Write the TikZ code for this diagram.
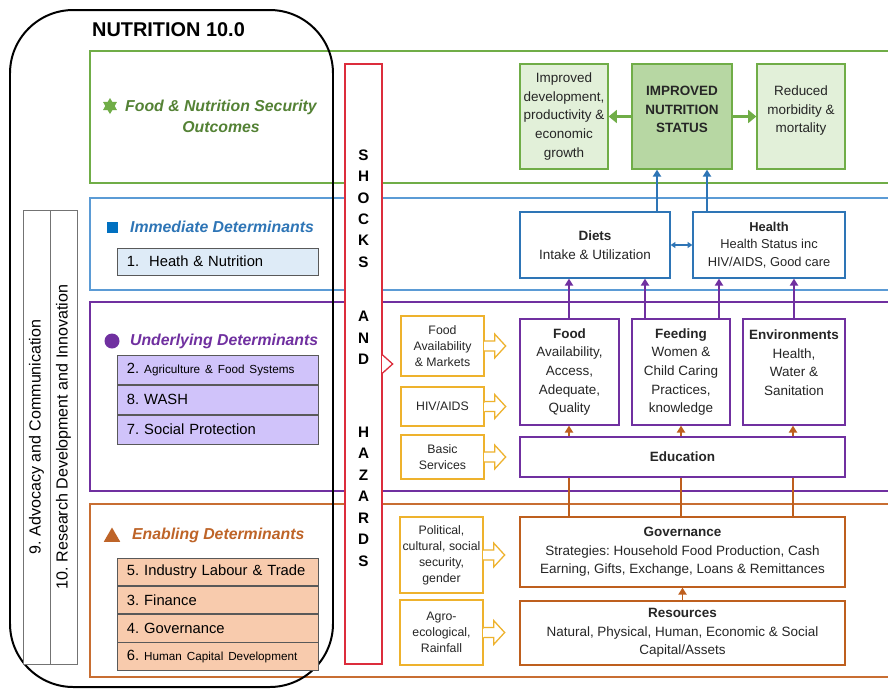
\documentclass[tikz,border=0pt]{standalone}
\usepackage{fontspec}
\setmainfont{Liberation Sans}
\usepackage{tikz}
\usetikzlibrary{positioning,shapes.geometric,arrows.meta}
\newcommand{\pxu}{0.03cm}
\definecolor{grnl}{RGB}{112,173,71}
\definecolor{grnd}{RGB}{84,130,53}
\definecolor{grnf}{RGB}{226,240,217}
\definecolor{grnm}{RGB}{183,215,163}
\definecolor{blul}{RGB}{91,155,213}
\definecolor{blub}{RGB}{46,117,182}
\definecolor{blusq}{RGB}{0,112,192}
\definecolor{bluf}{RGB}{222,235,247}
\definecolor{purp}{RGB}{112,48,160}
\definecolor{purf}{RGB}{208,195,250}
\definecolor{oral}{RGB}{200,110,50}
\definecolor{orad}{RGB}{190,95,30}
\definecolor{orat}{RGB}{190,100,40}
\definecolor{oraf}{RGB}{248,203,173}
\definecolor{gold}{RGB}{238,178,45}
\definecolor{shkr}{RGB}{220,45,60}
\tikzset{
  wh/.style 2 args={minimum width=#1*\pxu, minimum height=#2*\pxu},
  bx/.style={draw, line width=1.1pt, fill=white, inner sep=0pt, align=center, text=black!85, font=\fontsize{11.5}{15.8}\selectfont},
  bf/.style={font=\fontsize{11.5}{15.8}\selectfont\bfseries},
  gbx/.style={bx, draw=grnl, fill=grnf},
  bbx/.style={bx, draw=blub},
  pbx/.style={bx, draw=purp},
  obx/.style={bx, draw=orad},
  ybx/.style={bx, draw=gold, font=\fontsize{10.5}{13.6}\selectfont},
  lst/.style={draw=black!65, line width=0.6pt, text width=5.43cm, inner xsep=0.3cm, inner ysep=0pt, align=left, font=\fontsize{12.6}{15}\selectfont},
  hdr/.style={font=\fontsize{13.5}{18}\selectfont\bfseries\itshape},
  vbx/.style={draw=black!55, line width=0.8pt, fill=white, inner sep=0pt, font=\fontsize{13.7}{16}\selectfont},
  shl/.style={align=center, inner sep=0pt, font=\fontsize{13}{18.35}\selectfont\bfseries},
  band/.style={line width=0.9pt},
  arr/.style={line width=1.6pt, -{Triangle[width=7pt,length=6pt]}},
  garr/.style={line width=2.8pt, draw=grnl, -{Triangle[width=11pt,length=7pt]}},
  dbl/.style={line width=1pt, draw=blub, {Triangle[width=5pt,length=4pt]}-{Triangle[width=5pt,length=4pt]}}
}
\begin{document}
\frenchspacing
\begin{tikzpicture}[x=0.03cm, y=-0.03cm]
\useasboundingbox (0,0) rectangle (888,688);
\clip (0,0) rectangle (888,688);
\fill[white] (0,0) rectangle (888,688);

\draw[band, draw=grnl] (90,51) rectangle (900,183);
\draw[band, draw=blul] (90,198) rectangle (900,290);
\draw[band, draw=purp] (90,302) rectangle (900,491);
\draw[band, draw=oral] (90,504) rectangle (900,677);
\draw[line width=1.7pt, rounded corners=1.9cm] (10,10) rectangle (333,687);

\node[anchor=west, font=\fontsize{17}{20}\selectfont\bfseries] (ttl) at (88,30) {NUTRITION 10.0};

\node[vbx, wh={454}{27}, rotate=90] (adv) at (36.5,437) {9. Advocacy and Communication};
\node[vbx, wh={454}{27}, rotate=90] (rdi) at (63.5,437) {10. Research Development and Innovation};

\node[star, star points=6, star point ratio=1.7, fill=grnl, inner sep=0pt, minimum size=16*\pxu] (ic1) at (110,106) {};
\node[hdr, text=grnd, align=center] (h1) at (221,116.5) {Food \& Nutrition Security\\Outcomes};
\node[fill=blusq, inner sep=0pt, minimum size=11*\pxu] (ic2) at (112,227) {};
\node[hdr, text=blub, anchor=west] (h2) at (126,227) {Immediate Determinants};
\node[circle, fill=purp, inner sep=0pt, minimum size=15*\pxu] (ic3) at (112,341) {};
\node[hdr, text=purp, anchor=west] (h3) at (126,341) {Underlying Determinants};
\node[regular polygon, regular polygon sides=3, fill=orat, inner sep=0pt, minimum size=19*\pxu] (ic4) at (112,537) {};
\node[hdr, text=orat, anchor=west] (h4) at (128,535) {Enabling Determinants};

\node[lst, fill=bluf, minimum height=27*\pxu] (l1) at (217.5,261.5) {1.\ \ Heath \& Nutrition};
\node[lst, fill=purf, minimum height=29.3*\pxu] (l2) at (217.5,369.7) {2. {\fontsize{10}{12}\selectfont Agriculture \& Food Systems}};
\node[lst, fill=purf, minimum height=29.3*\pxu, below=0pt of l2] (l8) {8. WASH};
\node[lst, fill=purf, minimum height=29.3*\pxu, below=0pt of l8] (l7) {7. Social Protection};
\node[lst, fill=oraf, minimum height=27.5*\pxu] (l5) at (217.5,571.8) {5. Industry Labour \& Trade};
\node[lst, fill=oraf, minimum height=27.5*\pxu, below=0pt of l5] (l3) {3. Finance};
\node[lst, fill=oraf, minimum height=27.5*\pxu, below=0pt of l3] (l4) {4. Governance};
\node[lst, fill=oraf, minimum height=27.5*\pxu, below=0pt of l4] (l6) {6. {\fontsize{10}{12}\selectfont Human Capital Development}};

\node[draw=shkr, line width=1.1pt, fill=white, wh={37}{600}] (shk) at (363.5,364) {};
\node[shl] (sh1) at (363.5,208.5) {S\\H\\O\\C\\K\\S};
\node[shl] (sh2) at (363.5,338) {A\\N\\D};
\node[shl] (sh3) at (363.5,496.5) {H\\A\\Z\\A\\R\\D\\S};
\draw[shkr, line width=1.1pt, fill=white] (shk.east) ++(0,-9) -- ++(10,9) -- ++(-10,9);
\draw[white, line width=1.3pt] (shk.east) ++(0,-8) -- ++(0,16);

\node[gbx, wh={88}{105}] (dev) at (564,116.5) {Improved\\development,\\productivity \&\\economic\\growth};
\node[gbx, bf, fill=grnm, wh={100}{105}] (ins) at (682,116.5) {IMPROVED\\NUTRITION\\STATUS\\[-4pt]~};
\node[gbx, wh={88}{105}] (mor) at (801,116.5) {Reduced\\morbidity \&\\mortality\\[-4pt]~};

\node[bbx, wh={150}{66}] (diet) at (595,245) {\textbf{Diets}\\Intake \& Utilization};
\node[bbx, wh={152}{66}, font=\fontsize{11}{15}\selectfont] (hlth) at (769,245) {\textbf{Health}\\Health Status inc\\HIV/AIDS, Good care};

\node[pbx, wh={99}{106}] (food) at (569.5,372) {\textbf{Food}\\Availability,\\Access,\\Adequate,\\Quality};
\node[pbx, wh={98}{106}] (feed) at (681,372) {\textbf{Feeding}\\Women \&\\Child Caring\\Practices,\\knowledge};
\node[pbx, wh={102}{106}] (env) at (794,372) {\textbf{Environments}\\Health,\\Water \&\\Sanitation\\~};
\node[pbx, wh={325}{40}] (edu) at (682.5,457) {\textbf{Education}};

\node[obx, wh={325}{70}] (gov) at (682.5,552) {\textbf{Governance}\\Strategies: Household Food Production, Cash\\Earning, Gifts, Exchange, Loans \& Remittances};
\node[obx, wh={325}{64}] (res) at (682.5,633) {\textbf{Resources}\\Natural, Physical, Human, Economic \& Social\\Capital/Assets};

\node[ybx, wh={83}{60}] (fam) at (442.5,346) {Food\\Availability\\\& Markets};
\node[ybx, wh={83}{39}] (hiv) at (442.5,406.5) {HIV/AIDS};
\node[ybx, wh={83}{44}] (bas) at (442.5,457) {Basic\\Services};
\node[ybx, wh={83}{76}] (pol) at (441.5,555) {Political,\\cultural, social\\security,\\gender};
\node[ybx, wh={83}{65}] (agr) at (441.5,632.5) {Agro-\\ecological,\\Rainfall};
\foreach \n in {fam,hiv,bas,pol,agr}{
  \draw[gold, line width=1.1pt, fill=white] (\n.east) ++(0,-5) -- ++(10,0) -- ++(0,-7) -- ++(11,12) -- ++(-11,12) -- ++(0,-7) -- ++(-10,0);
  \draw[white, line width=1.3pt] (\n.east) ++(0,-4) -- ++(0,8);
}

\draw[garr] (ins) -- (dev);
\draw[garr] (ins) -- (mor);
\draw[arr, blub] (657,0 |- diet.north) -- (657,0 |- ins.south);
\draw[arr, blub] (707,0 |- hlth.north) -- (707,0 |- ins.south);
\draw[dbl] (diet) -- (hlth);
\draw[arr, purp] (569,0 |- food.north) -- (569,0 |- diet.south);
\draw[arr, purp] (645,0 |- feed.north) -- (645,0 |- diet.south);
\draw[arr, purp] (719,0 |- feed.north) -- (719,0 |- hlth.south);
\draw[arr, purp] (794,0 |- env.north) -- (794,0 |- hlth.south);
\draw[arr, orad] (569,0 |- edu.north) -- (569,0 |- food.south);
\draw[arr, orad] (681,0 |- edu.north) -- (681,0 |- feed.south);
\draw[arr, orad] (793,0 |- edu.north) -- (793,0 |- env.south);
\draw[line width=1.6pt, orad] (569,0 |- gov.north) -- (569,0 |- edu.south);
\draw[line width=1.6pt, orad] (681,0 |- gov.north) -- (681,0 |- edu.south);
\draw[line width=1.6pt, orad] (793,0 |- gov.north) -- (793,0 |- edu.south);
\draw[arr, orad] (res) -- (gov);
\end{tikzpicture}
\end{document}
